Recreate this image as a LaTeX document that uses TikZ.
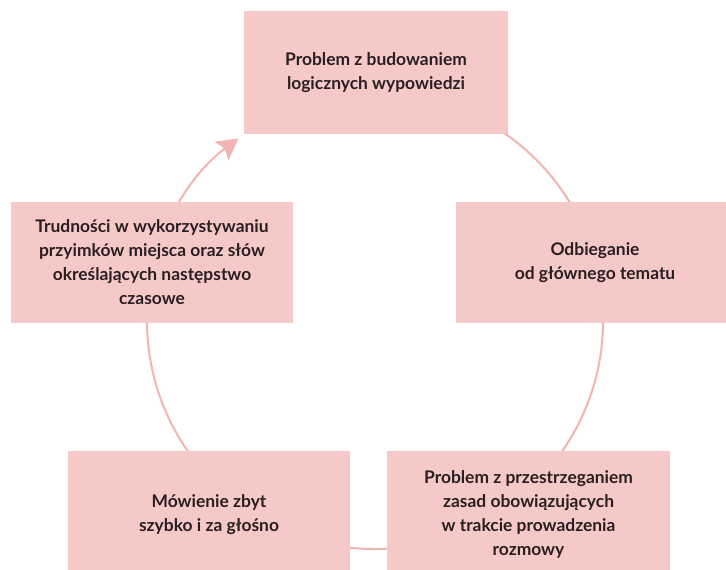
\documentclass[tikz,border=0pt]{standalone}
\usepackage{fontspec}
\setmainfont{Lato}[BoldFont={* Bold}]
\usetikzlibrary{arrows.meta,calc}
\definecolor{boxfill}{HTML}{F6C9C9}
\definecolor{ringcol}{HTML}{F2B3B3}
\definecolor{txt}{HTML}{2A1F1F}
\tikzset{
  card/.style={rectangle, fill=boxfill, draw=none, align=center, text=txt,
    font=\bfseries\fontsize{17.4}{24}\selectfont, inner sep=0pt},
  ring/.style={draw=ringcol, line width=2pt}
}
\begin{document}
\begin{tikzpicture}[x=1pt,y=1pt]
\useasboundingbox (0,0) rectangle (726,570);
\coordinate (c) at (375,249);
\draw[ring, -{Stealth[length=21pt,width=23pt,inset=4pt]}] ($(c)+(60:228)$) arc[start angle=60, end angle=-233.2, radius=228];
\node[card, minimum width=264pt, minimum height=123pt] (top) at (376,497) {Problem z budowaniem\\logicznych wypowiedzi};
\node[card, minimum width=278pt, minimum height=121pt] (right) at (595,307.5) {Odbieganie\\od głównego tematu};
\node[card, minimum width=283pt, minimum height=127pt] (br) at (528.5,55.5) {Problem z przestrzeganiem\\zasad obowiązujących\\w trakcie prowadzenia\\rozmowy};
\node[card, minimum width=282pt, minimum height=127pt] (bl) at (209,55.5) {Mówienie zbyt\\szybko i za głośno};
\node[card, minimum width=282pt, minimum height=121pt] (left) at (152,307.5) {Trudności w wykorzystywaniu\\przyimków miejsca oraz słów\\określających następstwo\\czasowe};
\end{tikzpicture}
\end{document}
